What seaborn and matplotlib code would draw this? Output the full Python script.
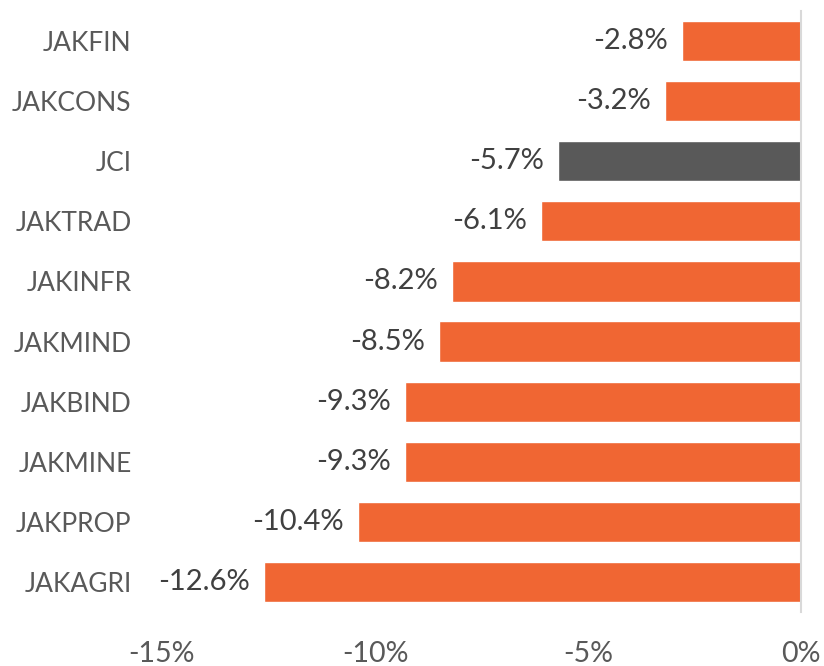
import pandas as pd
import matplotlib.pyplot as plt
import seaborn as sns

indices = ['JAKFIN', 'JAKCONS', 'JCI', 'JAKTRAD', 'JAKINFR', 'JAKMIND',
           'JAKBIND', 'JAKMINE', 'JAKPROP', 'JAKAGRI']
returns = [-2.8, -3.2, -5.7, -6.1, -8.2, -8.5, -9.3, -9.3, -10.4, -12.6]
x_ticks = [-15, -10, -5, 0]

ORANGE = '#F06633'
GREY = '#595959'
TEXT = '#595959'

sns.set_theme(style='white')
plt.rcParams['font.family'] = ['Lato', 'DejaVu Sans']

df = pd.DataFrame({'index': indices, 'ret': returns})
palette = {k: (GREY if k == 'JCI' else ORANGE) for k in indices}

fig = plt.figure(figsize=(8.24, 6.66), dpi=100)
ax = fig.add_axes([162 / 824, 1 - 612 / 666, (801 - 162) / 824, (612 - 11) / 666])
sns.barplot(data=df, x='ret', y='index', hue='index', palette=palette,
            width=0.67, legend=False, saturation=1, ax=ax)

ax.set_xlim(-15, 0)
ax.set_ylim(len(indices) - 0.5, -0.5)
ax.set_xticks(x_ticks)
ax.set_xticklabels([f'{t}%' for t in x_ticks])
ax.set_xlabel('')
ax.set_ylabel('')
for s in ['top', 'bottom', 'left']:
    ax.spines[s].set_visible(False)
ax.spines['right'].set_color('#d9d9d9')
ax.spines['right'].set_linewidth(1.5)
ax.tick_params(axis='x', length=0, pad=21, labelsize=20.5, labelcolor=TEXT)
ax.tick_params(axis='y', length=0, pad=22, labelsize=19, labelcolor=TEXT)

# Value labels at the left end of each bar
for container in ax.containers:
    ax.bar_label(container, fmt='%.1f%%', padding=10, fontsize=21, color='#404040')

fig.savefig('out.png', dpi=100)
